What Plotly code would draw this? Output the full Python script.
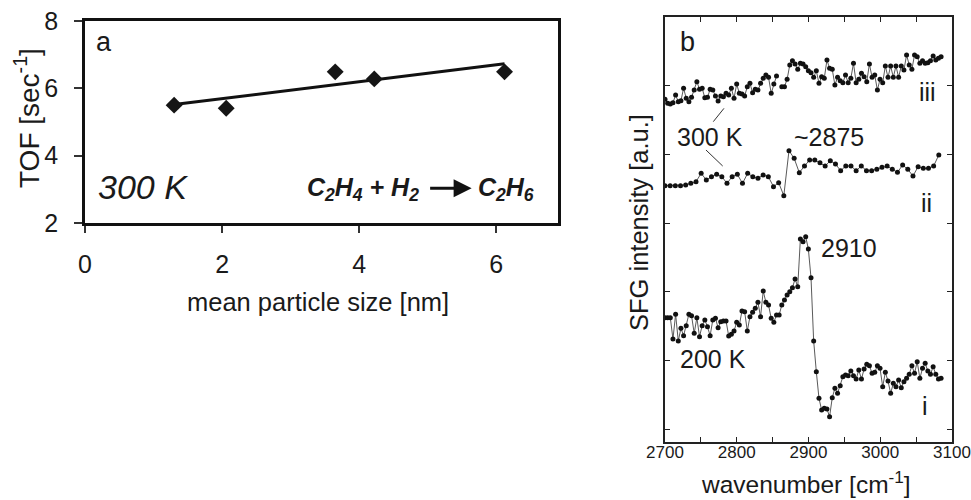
import plotly.graph_objects as go

# ---------------- Panel a data ----------------
particle_size = [1.30, 2.06, 3.65, 4.22, 6.12]          # nm
tof = [5.50, 5.41, 6.49, 6.28, 6.49]                    # sec^-1
fit_x = [1.30, 6.12]
fit_y = [5.52, 6.73]
a_xticks = [0, 2, 4, 6]
a_yticks = [2, 4, 6, 8]

# ---------------- Panel b data ----------------
wn_dense = [2700.0, 2703.7, 2707.4, 2711.1, 2714.8, 2718.5, 2722.2, 2725.9, 2729.6, 2733.3,
            2737.0, 2740.7, 2744.4, 2748.1, 2751.8, 2755.5, 2759.2, 2762.9, 2766.6, 2770.3,
            2774.0, 2777.7, 2781.4, 2785.1, 2788.8, 2792.5, 2796.2, 2799.9, 2803.6, 2807.3,
            2811.0, 2814.7, 2818.4, 2822.1, 2825.8, 2829.5, 2833.2, 2836.9, 2840.6, 2844.3,
            2848.0, 2851.7, 2855.4, 2859.1, 2862.8, 2866.5, 2870.2, 2873.9, 2877.6, 2881.3,
            2885.0, 2888.7, 2892.4, 2896.1, 2899.8, 2903.5, 2907.2, 2910.9, 2914.6, 2918.3,
            2922.0, 2925.7, 2929.4, 2933.1, 2936.8, 2940.5, 2944.2, 2947.9, 2951.6, 2955.3,
            2959.0, 2962.7, 2966.4, 2970.1, 2973.8, 2977.5, 2981.2, 2984.9, 2988.6, 2992.3,
            2996.0, 2999.7, 3003.4, 3007.1, 3010.8, 3014.5, 3018.2, 3021.9, 3025.6, 3029.3,
            3033.0, 3036.7, 3040.4, 3044.1, 3047.8, 3051.5, 3055.2, 3058.9, 3062.6, 3066.3,
            3070.0, 3073.7, 3077.4, 3081.1, 3084.8]

wn_ii = [2700.0, 2707.2, 2714.4, 2721.6, 2728.8, 2736.0, 2743.2, 2750.4, 2757.6, 2764.8,
         2772.0, 2779.2, 2786.4, 2793.6, 2800.8, 2808.0, 2815.2, 2822.4, 2829.6, 2836.8,
         2844.0, 2851.2, 2858.4, 2865.6, 2872.8, 2880.0, 2887.2, 2894.4, 2901.6, 2908.8,
         2916.0, 2923.2, 2930.4, 2937.6, 2944.8, 2952.0, 2959.2, 2966.4, 2973.6, 2980.8,
         2988.0, 2995.2, 3002.4, 3009.6, 3016.8, 3024.0, 3031.2, 3038.4, 3045.6, 3052.8,
         3060.0, 3067.2, 3074.4, 3081.6]

# spectrum i : 200 K
sfg_i = [37.3, 37.3, 37.3, 30.9, 38.3, 30.3, 34.1, 31.9, 34.9, 38.3,
         37.9, 32.6, 37.3, 31.6, 34.9, 36.6, 34.6, 31.9, 36.6, 37.1,
         34.3, 36.1, 36.3, 36.3, 31.8, 32.3, 33.3, 35.9, 35.1, 39.3,
         39.1, 33.3, 37.6, 38.9, 40.1, 41.9, 37.6, 45.3, 41.9, 41.1,
         37.1, 35.9, 38.1, 38.1, 41.1, 42.6, 44.1, 45.1, 46.3, 48.9,
         46.6, 60.9, 60.1, 61.6, 57.9, 49.3, 30.3, 21.1, 13.1, 9.6,
         10.1, 9.9, 7.6, 13.3, 16.1, 14.6, 16.9, 19.6, 20.1, 19.9,
         21.3, 19.9, 18.9, 21.6, 18.9, 21.9, 23.3, 22.9, 20.6, 20.9,
         22.9, 22.1, 16.6, 20.9, 18.3, 14.6, 17.6, 16.6, 18.6, 16.3,
         18.1, 19.1, 20.3, 22.9, 20.6, 24.1, 19.1, 22.1, 23.6, 21.3,
         20.3, 22.6, 20.3, 18.9, 19.1]

# spectrum ii : 300 K
sfg_ii = [6.9, 6.9, 6.9, 6.9, 7.1, 7.6, 8.1, 10.6, 8.6, 9.6,
          10.3, 9.6, 7.6, 9.6, 10.3, 7.6, 10.6, 9.6, 9.1, 10.1,
          9.6, 6.6, 7.8, 3.9, 17.4, 15.1, 10.8, 12.8, 14.6, 14.6,
          13.8, 12.8, 14.4, 13.4, 11.4, 12.8, 12.8, 11.4, 12.8, 11.4,
          11.4, 11.8, 12.4, 12.8, 11.8, 10.9, 13.1, 11.8, 9.8, 12.6,
          12.1, 12.1, 12.8, 16.1]

# spectrum iii
sfg_iii = [2.8, 1.6, 1.4, 1.8, 4.1, 2.1, 2.4, 6.1, 3.1, 2.1,
           3.4, 5.6, 8.1, 5.8, 6.1, 3.3, 3.4, 5.8, 5.6, 3.8,
           2.3, 3.8, 3.6, 4.6, 4.1, 6.1, 3.1, 7.4, 4.6, 4.4,
           3.8, 6.6, 7.6, 4.8, 5.8, 5.6, 7.6, 9.1, 10.1, 9.4,
           4.6, 7.4, 9.8, None, 6.6, 6.6, 8.8, 13.1, 14.4, 13.4,
           11.8, 13.6, 13.4, 12.6, 11.4, 10.8, 9.4, 11.4, 7.6, 9.6,
           9.1, 14.6, 12.1, 11.8, 7.1, 9.4, 8.4, 7.8, 10.1, 7.8,
           9.1, 13.6, 7.8, 8.8, 10.6, 9.6, 8.1, 13.4, 9.4, 10.1,
           5.6, 8.8, 7.8, 12.8, 9.4, 12.8, 9.4, 12.8, 9.4, 12.8,
           11.6, 16.1, 13.1, 11.8, 16.1, 15.6, 13.6, 14.4, 13.6, 13.8,
           14.4, 15.8, 14.6, 15.1, 15.6]

offset_i, offset_ii, offset_iii = 0.0, 70.0, 100.0
b_xticks = [2700, 2750, 2800, 2850, 2900, 2950, 3000, 3050, 3100]
b_xticktext = ["2700", "", "2800", "", "2900", "", "3000", "", "3100"]
b_yticks = [3.9, 24.5, 45.1, 65.7, 86.3, 106.9]

FONT = "Liberation Sans, Arial, sans-serif"
INK = "#1a1a1a"


def shift(vals, off):
    return [None if v is None else v + off for v in vals]


fig = go.Figure()

# ---- panel a ----
fig.add_trace(go.Scatter(x=fit_x, y=fit_y, mode="lines",
                         line=dict(color="#111", width=3), xaxis="x", yaxis="y",
                         showlegend=False, hoverinfo="skip"))
fig.add_trace(go.Scatter(x=particle_size, y=tof, mode="markers",
                         marker=dict(symbol="diamond", size=13, color="#151515"),
                         xaxis="x", yaxis="y", showlegend=False))

# ---- panel b ----
for wn, vals, off in [(wn_dense, sfg_iii, offset_iii), (wn_ii, sfg_ii, offset_ii),
                      (wn_dense, sfg_i, offset_i)]:
    fig.add_trace(go.Scatter(x=wn, y=shift(vals, off), mode="lines+markers",
                             line=dict(color="#5a5a5a", width=1),
                             marker=dict(size=5, color="#111"),
                             connectgaps=False,
                             xaxis="x2", yaxis="y2", showlegend=False))

ann = []


def txt(x, y, s, size, xref, yref, **kw):
    d = dict(x=x, y=y, text=s, showarrow=False, xref=xref, yref=yref,
             xanchor="center", yanchor="middle",
             font=dict(family=FONT, size=size, color=INK))
    d.update(kw)
    ann.append(d)


def sub(s):
    return "<sub>" + s + "</sub>"


# panel a annotations
txt(0.28, 7.38, "a", 27, "x", "y")
txt(0.84, 3.07, "<i>300 K</i>", 34, "x", "y")
txt(4.90, 3.0, "<b><i>C" + sub("2") + "H" + sub("4") + " + H" + sub("2") + "</i></b>",
    25, "x", "y", xanchor="right")
txt(5.70, 3.0, "<b><i>C" + sub("2") + "H" + sub("6") + "</i></b>", 25, "x", "y",
    xanchor="left")
ann.append(dict(x=5.64, y=3.03, xref="x", yref="y", ax=-43, ay=0, text="",
                showarrow=True, arrowhead=2, arrowsize=1.2, arrowwidth=3,
                arrowcolor="#111"))
# axis titles panel a
txt(317.5 / 971, 1 - 302 / 500, "mean particle size [nm]", 25.5, "paper", "paper")
txt(27 / 971, 1 - 118 / 500, "TOF [sec<sup>-1</sup>]", 28, "paper", "paper",
    textangle=-90)

# panel b annotations
txt(2732, 120.0, "b", 27, "x2", "y2")
txt(2762.7, 91.5, "300 K", 25, "x2", "y2")
txt(2928.6, 91.5, "~2875", 25, "x2", "y2")
txt(2957.1, 58.2, "2910", 25, "x2", "y2")
txt(2766.9, 24.9, "200 K", 25, "x2", "y2")
txt(3066.5, 105.0, "iii", 25, "x2", "y2")
txt(3065.1, 71.7, "ii", 25, "x2", "y2")
txt(3062.4, 10.8, "i", 25, "x2", "y2")
txt(806 / 971, 1 - 482 / 500, "wavenumber [cm<sup>-1</sup>]", 24.5, "paper", "paper")
txt(639 / 971, 1 - 223 / 500, "SFG intensity [a.u.]", 25.5, "paper", "paper",
    textangle=-90)

shapes = [
    dict(type="line", xref="x2", yref="y2", x0=2767.3, y0=96.1, x1=2782.2, y1=100.1,
         line=dict(color="#333", width=1)),
    dict(type="line", xref="x2", yref="y2", x0=2757.1, y0=87.6, x1=2780.4, y1=82.8,
         line=dict(color="#333", width=1)),
]

fig.update_layout(
    width=971, height=500,
    margin=dict(l=0, r=0, t=0, b=0),
    paper_bgcolor="white", plot_bgcolor="white",
    font=dict(family=FONT, color=INK),
    annotations=ann, shapes=shapes,
    xaxis=dict(domain=[85 / 971, 558 / 971], range=[0, 6.9], tickvals=a_xticks,
               ticks="outside", ticklen=7, tickwidth=1.5, tickcolor="#333",
               showline=True, linewidth=2.5, linecolor="#111", mirror=True,
               showgrid=False, zeroline=False, anchor="y", automargin=False,
               tickfont=dict(family=FONT, size=25, color=INK), ticklabelstandoff=10),
    yaxis=dict(domain=[1 - 223 / 500, 1 - 21 / 500], range=[2, 8], tickvals=a_yticks,
               ticks="outside", ticklen=8, tickwidth=1.5, tickcolor="#333",
               showline=True, linewidth=2.5, linecolor="#111", mirror=True,
               showgrid=False, zeroline=False, anchor="x", automargin=False,
               tickfont=dict(family=FONT, size=25, color=INK), ticklabelstandoff=11),
    xaxis2=dict(domain=[665 / 971, 952 / 971], range=[2700, 3100], tickvals=b_xticks,
                ticktext=b_xticktext, ticks="inside", ticklen=5, tickwidth=1.2,
                tickcolor="#222", showline=True, linewidth=1.5, linecolor="#222",
                mirror="ticks", showgrid=False, zeroline=False, anchor="y2",
                automargin=False, ticklabeloverflow="allow", ticklabelstandoff=-6,
                tickfont=dict(family="Liberation Sans Narrow, Arial Narrow, " + FONT,
                              size=17, color=INK)),
    yaxis2=dict(domain=[1 - 442 / 500, 1 - 17 / 500], range=[0, 127.5],
                tickvals=b_yticks, showticklabels=False, ticks="inside", ticklen=5,
                tickwidth=1.2, tickcolor="#222", showline=True, linewidth=1.5,
                linecolor="#222", mirror="ticks", showgrid=False, zeroline=False,
                anchor="x2", automargin=False),
)

fig.write_html("out.html", config={"displayModeBar": False},
               post_script="document.body.style.margin='0';document.body.style.overflow='hidden';")
